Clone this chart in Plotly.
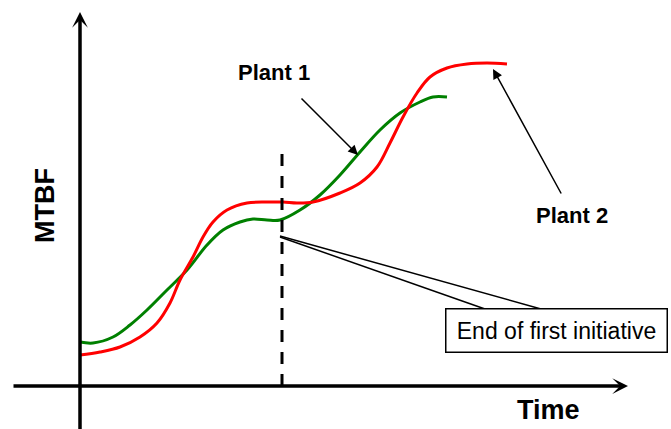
import plotly.graph_objects as go

# concept sketch: MTBF vs time for two plants (arbitrary units, origin at axis crossing)
plant1_time = [0, 13, 33, 50, 67, 87, 107, 127, 143, 160, 173, 187, 200, 220, 240, 260, 280, 300, 320, 340, 353, 367]
plant1_mtbf = [44, 43, 49, 61, 76, 96, 116, 141, 156, 164, 167, 166, 166, 176, 191, 211, 234, 256, 273, 284, 289, 289]

plant2_time = [0, 20, 40, 60, 77, 90, 100, 113, 123, 133, 147, 167, 187, 203, 217, 233, 260, 280, 297, 310,
               323, 337, 350, 367, 387, 407, 427]
plant2_mtbf = [31, 34, 39, 49, 63, 83, 106, 129, 149, 164, 176, 183, 184, 184, 183, 184, 193, 203, 219, 243,
               269, 293, 309, 318, 322, 323, 322]

initiative_end = 202

FONT = "Liberation Sans, Arial, sans-serif"

fig = go.Figure()

fig.add_trace(go.Scatter(
    x=plant1_time, y=plant1_mtbf, mode="lines",
    line=dict(color="#008000", width=3, shape="spline", smoothing=1),
    name="Plant 1"
))
fig.add_trace(go.Scatter(
    x=plant2_time, y=plant2_mtbf, mode="lines",
    line=dict(color="#ff0000", width=3, shape="spline", smoothing=1),
    name="Plant 2"
))

# dashed marker for end of first initiative
fig.add_shape(type="line", x0=initiative_end, x1=initiative_end, y0=0, y1=241,
              line=dict(color="black", width=3, dash="12px,10px"))

# callout wedge to the box
fig.add_shape(type="line", x0=initiative_end - 2, y0=149, x1=405, y1=77,
              line=dict(color="black", width=1.5))
fig.add_shape(type="line", x0=initiative_end - 2, y0=150, x1=461, y1=77,
              line=dict(color="black", width=1.5))

# hand-drawn style axes with arrows
arrow = dict(xref="x", yref="y", axref="x", ayref="y", text="", showarrow=True,
             arrowhead=3, arrowsize=0.75, arrowwidth=3.5, arrowcolor="black", standoff=0)
fig.add_annotation(x=0, y=374, ax=0, ay=-45, **arrow)
fig.add_annotation(x=548, y=0, ax=-68, ay=0, **arrow)

# label pointers
pointer = dict(xref="x", yref="y", axref="x", ayref="y", text="", showarrow=True,
               arrowhead=2, arrowsize=1.3, arrowwidth=1.5, arrowcolor="black", standoff=0)
fig.add_annotation(x=278, y=231, ax=220, ay=289, **pointer)
fig.add_annotation(x=413, y=317, ax=482, ay=191, **pointer)

fig.add_annotation(x=194, y=314, text="<b>Plant 1</b>", showarrow=False,
                   font=dict(family=FONT, size=22, color="black"))
fig.add_annotation(x=492, y=171, text="<b>Plant 2</b>", showarrow=False,
                   font=dict(family=FONT, size=22, color="black"))
fig.add_annotation(x=-35, y=180, text="<b>MTBF</b>", showarrow=False, textangle=-90,
                   font=dict(family=FONT, size=27, color="black"))
fig.add_annotation(x=468, y=-24, text="<b>Time</b>", showarrow=False,
                   font=dict(family=FONT, size=27, color="black"))
fig.add_annotation(x=476, y=56, text="End of first initiative", showarrow=False,
                   width=216, height=38, borderpad=2, bordercolor="black", borderwidth=1.5,
                   bgcolor="white", font=dict(family=FONT, size=23, color="black"))

fig.update_layout(
    width=671, height=429,
    margin=dict(l=0, r=0, t=0, b=0),
    paper_bgcolor="white", plot_bgcolor="white",
    showlegend=False,
    xaxis=dict(range=[-80, 591], visible=False, fixedrange=True),
    yaxis=dict(range=[-43, 386], visible=False, fixedrange=True),
)

# drop the default page margin so the figure sits at the window's corner
fig.write_html("out.html", config={"displayModeBar": False},
               post_script="document.body.style.margin='0px';")
